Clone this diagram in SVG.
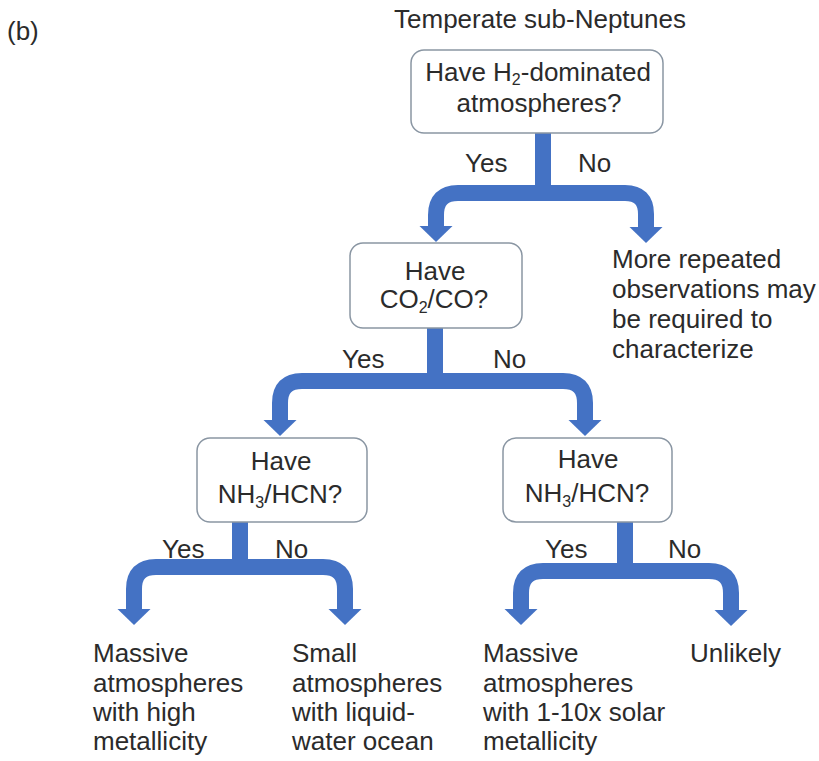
<svg xmlns="http://www.w3.org/2000/svg" width="819" height="761" viewBox="0 0 819 761">
<style>
text{font-family:"Liberation Sans",Arial,sans-serif;font-size:26px;fill:#2b2b2b}
.c{text-anchor:middle}
.box{fill:#fff;stroke:#8a96a3;stroke-width:1.5}
.con{fill:none;stroke:#4472c4;stroke-width:16}
.sub{font-size:16px}
</style>
<defs>
<marker id="ah" markerUnits="userSpaceOnUse" orient="auto" refX="0" refY="0" markerWidth="20" markerHeight="34" overflow="visible">
<path d="M0,-16.5 L16,0 L0,16.5 Z" fill="#4472c4"/>
</marker>
</defs>
<rect width="819" height="761" fill="#fff"/>
<text x="7" y="40">(b)</text>
<text class="c" x="540" y="28">Temperate sub-Neptunes</text>
<g id="connectors">
<path class="con" d="M543,133 V193 H458 Q436,193 436,215 V226" marker-end="url(#ah)"/>
<path class="con" d="M543,193 H625 Q646,193 646,214 V227" marker-end="url(#ah)"/>
<path class="con" d="M435,328 V381 H302 Q280,381 280,403 V420" marker-end="url(#ah)"/>
<path class="con" d="M435,381 H563 Q585,381 585,403 V420" marker-end="url(#ah)"/>
<path class="con" d="M240,522 V567 H156 Q134,567 134,589 V609" marker-end="url(#ah)"/>
<path class="con" d="M240,567 H323 Q345,567 345,589 V609" marker-end="url(#ah)"/>
<path class="con" d="M625,522 V571 H543 Q521,571 521,593 V609" marker-end="url(#ah)"/>
<path class="con" d="M625,571 H709 Q731,571 731,593 V610" marker-end="url(#ah)"/>
</g>
<g id="q1">
<rect class="box" x="411" y="50" width="252" height="83" rx="13"/>
<text class="c" x="538" y="81">Have H<tspan class="sub" dy="4">2</tspan><tspan dy="-4">-dominated</tspan></text>
<text class="c" x="539" y="112">atmospheres?</text>
</g>
<g id="q1-labels">
<text x="465" y="172">Yes</text>
<text x="578" y="172">No</text>
</g>
<g id="q2">
<rect class="box" x="350" y="243" width="172" height="85" rx="13"/>
<text class="c" x="435" y="280">Have</text>
<text class="c" x="434" y="308">CO<tspan class="sub" dy="5">2</tspan><tspan dy="-5">/CO?</tspan></text>
</g>
<g id="q2-labels">
<text x="342" y="368">Yes</text>
<text x="493" y="368">No</text>
</g>
<g id="q3">
<rect class="box" x="197" y="438" width="170" height="84" rx="13"/>
<text class="c" x="281" y="470">Have</text>
<text class="c" x="280" y="503">NH<tspan class="sub" dy="5">3</tspan><tspan dy="-5">/HCN?</tspan></text>
</g>
<g id="q3-labels">
<text x="162" y="558">Yes</text>
<text x="275" y="558">No</text>
</g>
<g id="q4">
<rect class="box" x="503" y="438" width="169" height="84" rx="13"/>
<text class="c" x="588" y="468">Have</text>
<text class="c" x="587" y="502">NH<tspan class="sub" dy="5">3</tspan><tspan dy="-5">/HCN?</tspan></text>
</g>
<g id="q4-labels">
<text x="545" y="558">Yes</text>
<text x="668" y="558">No</text>
</g>
<g id="r-more">
<text x="612" y="268">More repeated</text>
<text x="612" y="298">observations may</text>
<text x="612" y="328">be required to</text>
<text x="612" y="358">characterize</text>
</g>
<g id="r-massive-high">
<text x="93" y="662">Massive</text>
<text x="93" y="692">atmospheres</text>
<text x="93" y="721">with high</text>
<text x="93" y="750">metallicity</text>
</g>
<g id="r-small">
<text x="292" y="662">Small</text>
<text x="292" y="692">atmospheres</text>
<text x="292" y="721">with liquid-</text>
<text x="292" y="750">water ocean</text>
</g>
<g id="r-massive-solar">
<text x="483" y="662">Massive</text>
<text x="483" y="692">atmospheres</text>
<text x="483" y="721">with 1-10x solar</text>
<text x="483" y="750">metallicity</text>
</g>
<g id="r-unlikely">
<text x="690" y="662">Unlikely</text>
</g>
</svg>
